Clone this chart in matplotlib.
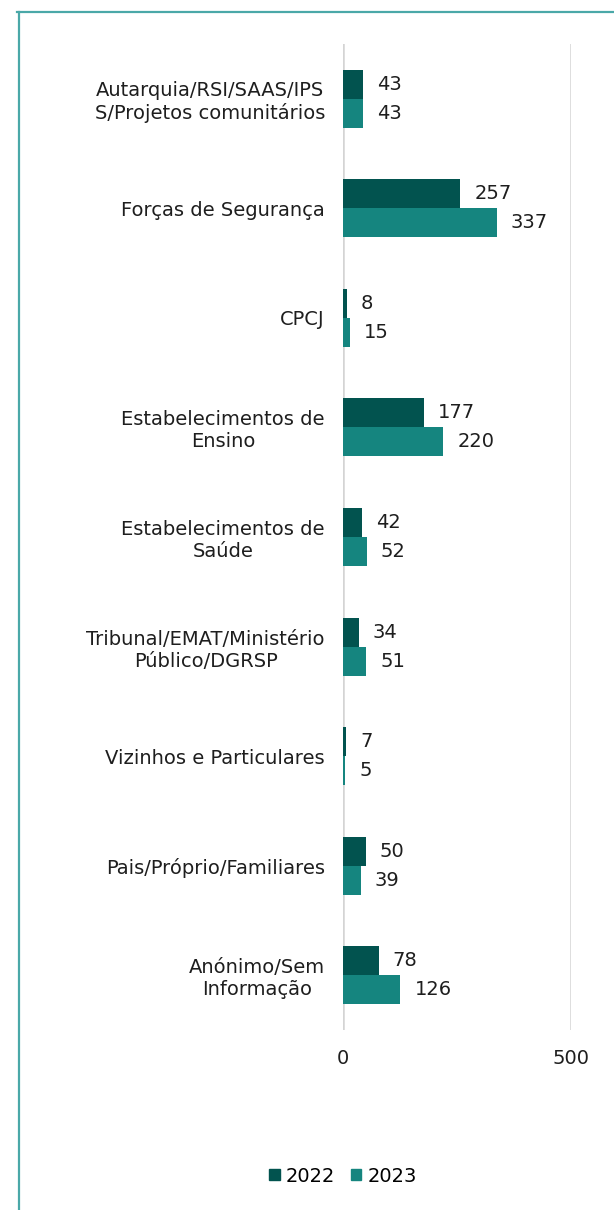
import numpy as np
import matplotlib
matplotlib.use("Agg")
import matplotlib.pyplot as plt
from matplotlib.lines import Line2D
from matplotlib.patches import Patch

plt.rcParams['font.family'] = ['DejaVu Sans']

categorias = [
    "Autarquia/RSI/SAAS/IPS\nS/Projetos comunitários",
    "Forças de Segurança",
    "CPCJ",
    "Estabelecimentos de\nEnsino",
    "Estabelecimentos de\nSaúde",
    "Tribunal/EMAT/Ministério\nPúblico/DGRSP",
    "Vizinhos e Particulares",
    "Pais/Próprio/Familiares",
    "Anónimo/Sem\nInformação",
]
v2022 = [43, 257, 8, 177, 42, 34, 7, 50, 78]
v2023 = [43, 337, 15, 220, 52, 51, 5, 39, 126]
anos = ["2022", "2023"]
cores = ["#02534f", "#15857f"]
fs = 14

fig = plt.figure(figsize=(6.14, 12.10), dpi=100)
ax = fig.add_axes([343/614, 1 - 1030/1210, 228/614, 986/1210])

y = np.arange(len(categorias))
h = 0.265
b1 = ax.barh(y - h/2, v2022, height=h, color=cores[0], zorder=3)
b2 = ax.barh(y + h/2, v2023, height=h, color=cores[1], zorder=3)

# value labels
for bars in (b1, b2):
    for r in bars:
        ax.text(r.get_width() + 31, r.get_y() + r.get_height()/2, str(int(r.get_width())),
                va='center', ha='left', fontsize=fs, color='#1e1e1e')

ax.set_xlim(0, 500)
ax.set_ylim(len(categorias) - 0.5, -0.5)
ax.set_xticks([0, 500])
ax.set_xticklabels(["0", "500"], fontsize=fs, color='#1e1e1e')
ax.set_yticks(y)
ax.set_yticklabels(categorias, fontsize=fs, color='#1e1e1e')
plt.setp(ax.get_yticklabels(), multialignment='center', linespacing=1.2)
ax.tick_params(axis='both', length=0)
ax.tick_params(axis='y', pad=13)
ax.tick_params(axis='x', pad=14)
ax.grid(axis='x', color='#d4d4d4', linewidth=1.8, zorder=0)
for s in ax.spines.values():
    s.set_visible(False)

handles = [Patch(color=c, label=a) for c, a in zip(cores, anos)]
fig.legend(handles=handles, loc='center', bbox_to_anchor=(343/614, 1 - 1176/1210),
           ncol=2, frameon=False, fontsize=fs, handlelength=0.55, handleheight=0.55,
           handletextpad=0.3, columnspacing=0.8)

# teal frame lines
fig.add_artist(Line2D([17/614, 1], [1 - 12/1210, 1 - 12/1210], color='#4aa8a8', linewidth=1.6))
fig.add_artist(Line2D([18.5/614, 18.5/614], [0, 1 - 12/1210], color='#4aa8a8', linewidth=1.6))

fig.savefig("out.png", dpi=100)
